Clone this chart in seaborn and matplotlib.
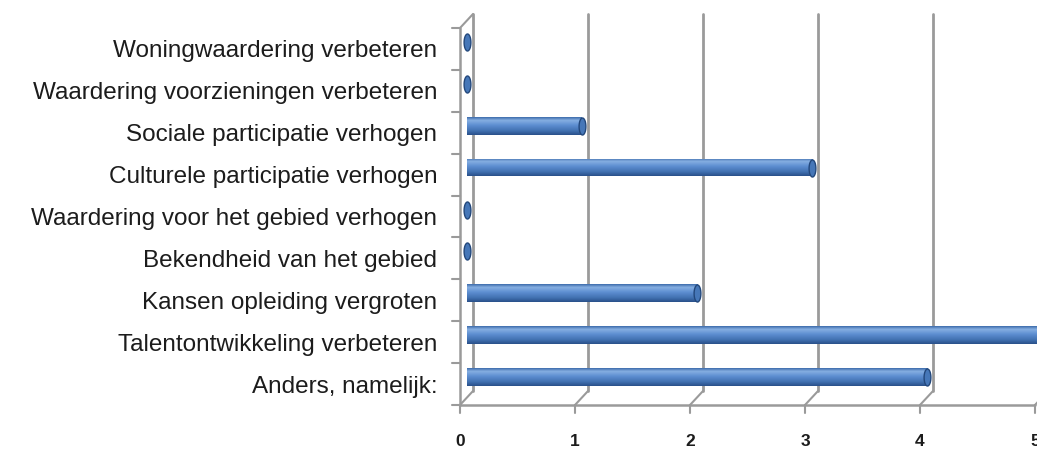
import numpy as np
import pandas as pd
import matplotlib
matplotlib.use("Agg")
import matplotlib.pyplot as plt
import seaborn as sns
from matplotlib.transforms import ScaledTranslation
from matplotlib.path import Path
from matplotlib.colors import LinearSegmentedColormap

# ---- data ----
categories = [
    "Woningwaardering verbeteren",
    "Waardering voorzieningen verbeteren",
    "Sociale participatie verhogen",
    "Culturele participatie verhogen",
    "Waardering voor het gebied verhogen",
    "Bekendheid van het gebied",
    "Kansen opleiding vergroten",
    "Talentontwikkeling verbeteren",
    "Anders, namelijk:",
]
values = [0, 0, 1, 3, 0, 0, 2, 5, 4]
xticks = [0, 1, 2, 3, 4, 5]

sns.set_style("white")
plt.rcParams["font.family"] = ["Liberation Sans", "DejaVu Sans"]

W, H, DPI = 1037, 453, 100
fig = plt.figure(figsize=(W / DPI, H / DPI), dpi=DPI)

# middle depth plane of the pseudo-3D chart
ax_left, ax_right, ax_top, ax_bot = 466.5, 1041.5, 21, 398
ax = fig.add_axes([ax_left / W, 1 - ax_bot / H, (ax_right - ax_left) / W, (ax_bot - ax_top) / H])
ax.patch.set_alpha(0)

df = pd.DataFrame({"cat": categories, "val": values})
sns.barplot(data=df, x="val", y="cat", orient="h", color="#4F81BD", width=0.42,
            saturation=1, linewidth=0, edgecolor="none", ax=ax, zorder=3)

n = len(categories)
ax.set_xlim(0, 5)
ax.set_ylim(n - 0.5, -0.5)
for s in ax.spines.values():
    s.set_visible(False)
ax.set_xlabel("")
ax.set_ylabel("")

# cylinder shading on bars
cmap = LinearSegmentedColormap.from_list(
    "cyl", [(0.0, "#3d6cab"), (0.18, "#86afe2"), (0.45, "#5d8ed1"),
            (0.75, "#4373b3"), (1.0, "#29508a")])
grad = np.linspace(0, 1, 100).reshape(-1, 1)
for p in list(ax.patches):
    w = p.get_width()
    if w <= 0:
        continue
    x0, y0, h = p.get_x(), p.get_y(), p.get_height()
    im = ax.imshow(grad, cmap=cmap, extent=(x0, x0 + w, y0 + h, y0), origin="upper",
                   aspect="auto", zorder=3.5, interpolation="bilinear")
    im.set_clip_path(p)
ax.set_xlim(0, 5)
ax.set_ylim(n - 0.5, -0.5)

# end caps (ellipses)
t = np.linspace(0, 2 * np.pi, 60)
ell = Path(np.column_stack([0.4 * np.cos(t), np.sin(t)]), closed=True)
ax.scatter(values, range(n), marker=ell, s=150, facecolor="#4677b8",
           edgecolor="#23487c", linewidth=1.0, zorder=4, clip_on=False)

# 3D frame geometry
DX, DY = 6.5, 7.0
front = ScaledTranslation(-DX / DPI, -DY / DPI, fig.dpi_scale_trans)
back = ScaledTranslation(DX / DPI, DY / DPI, fig.dpi_scale_trans)
px_w = ax_right - ax_left
px_h = ax_bot - ax_top
dx_data = 2 * DX / (px_w / 5)
dx_ax = 2 * DX / px_w
dy_ax = 2 * DY / px_h
gcol = "#9a9a9a"
xt = ax.get_xaxis_transform()
yt = ax.get_yaxis_transform()

for v in xticks:
    # back wall gridlines
    ax.plot([v, v], [0, 1], transform=xt + back, color=gcol, lw=2, zorder=1, clip_on=False)
    # floor connectors
    ax.plot([v, v + dx_data], [0, dy_ax], transform=xt + front, color=gcol, lw=1.5, zorder=1, clip_on=False)
    # front tick marks
    ax.plot([v, v], [0, -8 / px_h], transform=xt + front, color=gcol, lw=1.5, zorder=1, clip_on=False)

# front floor edge
ax.plot([0, 5], [0, 0], transform=xt + front, color=gcol, lw=1.8, zorder=1, clip_on=False)
# left wall
ax.plot([0, 0], [0, 1], transform=ax.transAxes + front, color=gcol, lw=1.8, zorder=1, clip_on=False)
ax.plot([0, dx_ax], [1, 1 + dy_ax], transform=ax.transAxes + front, color=gcol, lw=1.5, zorder=1, clip_on=False)
for b in np.arange(-0.5, n + 0.5, 1.0):
    ax.plot([-8 / px_w, 0], [b, b], transform=yt + front, color=gcol, lw=1.5, zorder=1, clip_on=False)

# tick labels
ax.set_yticks(range(n))
ax.set_yticklabels(categories, fontsize=17.5, color="#1c1c1c")
ax.tick_params(axis="y", length=0, pad=21)
for lab in ax.get_yticklabels():
    lab.set_transform(lab.get_transform() + ScaledTranslation(0, -DY / DPI, fig.dpi_scale_trans))

ax.set_xticks(xticks)
ax.set_xticklabels([str(v) for v in xticks], fontsize=12.5, fontweight="bold", color="#1c1c1c")
ax.tick_params(axis="x", length=0, pad=21)
for lab in ax.get_xticklabels():
    lab.set_transform(lab.get_transform() + front)

fig.savefig("out.png", dpi=DPI)
